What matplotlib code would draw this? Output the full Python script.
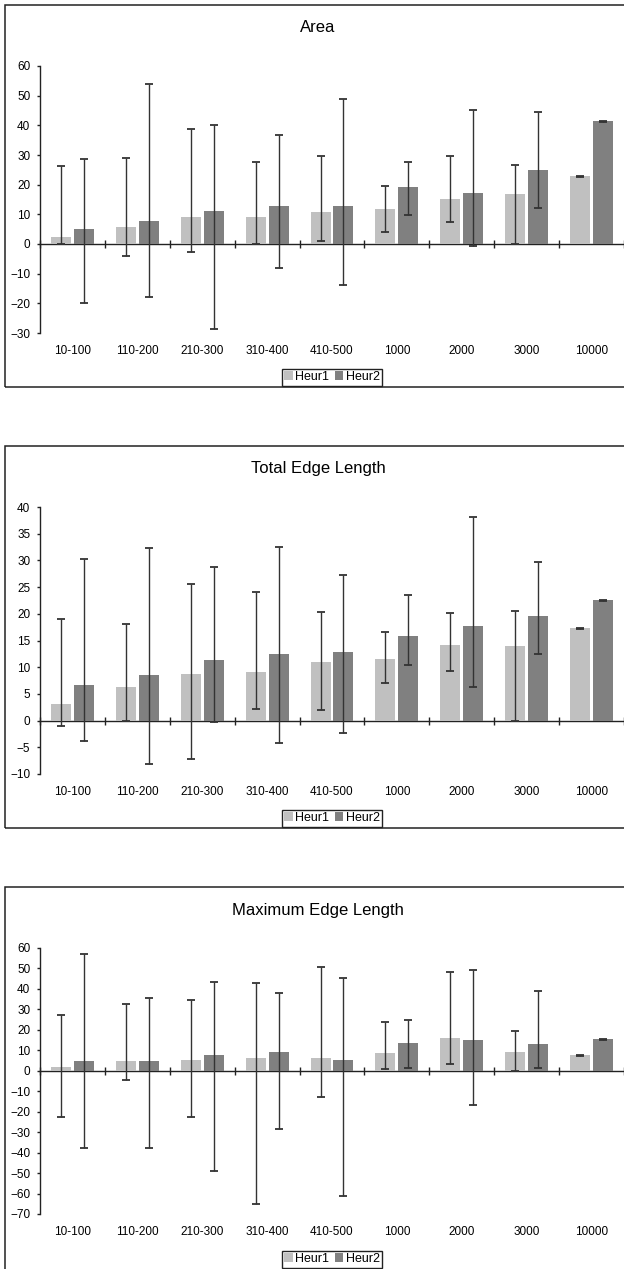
import numpy as np
import matplotlib
matplotlib.use("Agg")
import matplotlib.pyplot as plt
from matplotlib.patches import Rectangle

plt.rcParams['font.family'] = ['Liberation Sans', 'DejaVu Sans']

categories = ['10-100', '110-200', '210-300', '310-400', '410-500', '1000', '2000', '3000', '10000']
series_names = ['Heur1', 'Heur2']

# Area: means and error bar ends (low / high)
area_h1 = [2.3, 5.7, 9.1, 9.1, 10.8, 11.8, 15.1, 16.8, 22.8]
area_h1_lo = [0.0, -3.9, -2.6, 0.0, 1.0, 4.1, 7.5, 0.0, 22.5]
area_h1_hi = [26.3, 29.0, 38.6, 27.5, 29.7, 19.6, 29.7, 26.7, 22.8]
area_h2 = [5.0, 7.7, 11.1, 12.8, 12.8, 19.2, 17.2, 24.9, 41.4]
area_h2_lo = [-20.0, -18.0, -28.8, -8.0, -13.8, 9.8, -0.7, 12.1, 41.1]
area_h2_hi = [28.6, 53.9, 40.1, 36.9, 48.9, 27.6, 45.2, 44.6, 41.4]

# Total edge length
tel_h1 = [3.1, 6.3, 8.7, 9.1, 11.0, 11.5, 14.1, 14.0, 17.3]
tel_h1_lo = [-1.0, 0.0, -7.2, 2.2, 1.9, 7.1, 9.3, 0.0, 17.2]
tel_h1_hi = [19.1, 18.1, 25.5, 24.0, 20.3, 16.6, 20.1, 20.5, 17.4]
tel_h2 = [6.7, 8.5, 11.3, 12.5, 12.8, 15.8, 17.7, 19.6, 22.6]
tel_h2_lo = [-3.8, -8.2, -0.2, -4.2, -2.3, 10.4, 6.2, 12.5, 22.4]
tel_h2_hi = [30.2, 32.3, 28.7, 32.5, 27.3, 23.6, 38.1, 29.7, 22.6]

# Maximum edge length
mel_h1 = [1.6, 5.0, 5.5, 6.0, 6.0, 8.9, 15.8, 9.4, 7.5]
mel_h1_lo = [-22.8, -4.6, -22.8, -65.2, -12.8, 1.0, 3.1, -0.3, 7.3]
mel_h1_hi = [27.2, 32.5, 34.5, 42.9, 50.9, 23.6, 48.5, 19.3, 7.7]
mel_h2 = [5.0, 5.0, 7.5, 9.4, 5.5, 13.8, 14.8, 13.3, 15.3]
mel_h2_lo = [-37.7, -37.9, -49.1, -28.3, -61.1, 1.5, -16.6, 1.3, 15.1]
mel_h2_hi = [57.2, 35.4, 43.6, 37.9, 45.2, 24.7, 49.4, 39.0, 15.5]

W, H = 624, 1269
fig = plt.figure(figsize=(W / 100, H / 100), dpi=100)

colors = ['#c0c0c0', '#808080']
bar_w = 0.308
offs = [-0.177, 0.177]

# (title, data, ylim, step, axes top px, axes bottom px, box top px, box bottom px, title px, legend px)
panels = [
    ('Area', [(area_h1, area_h1_lo, area_h1_hi), (area_h2, area_h2_lo, area_h2_hi)],
     (-30, 60), 10, 66, 333, 5, 387, 27, 377),
    ('Total Edge Length', [(tel_h1, tel_h1_lo, tel_h1_hi), (tel_h2, tel_h2_lo, tel_h2_hi)],
     (-10, 40), 5, 507, 774, 446, 828, 468, 818),
    ('Maximum Edge Length', [(mel_h1, mel_h1_lo, mel_h1_hi), (mel_h2, mel_h2_lo, mel_h2_hi)],
     (-70, 60), 10, 948, 1214, 887, 1275, 910, 1259),
]

x = np.arange(len(categories))

for title, data, ylim, step, a_top, a_bot, b_top, b_bot, t_y, l_y in panels:
    # outer frame
    fig.patches.append(Rectangle((5 / W, 1 - b_bot / H), 1.0, (b_bot - b_top) / H,
                                 transform=fig.transFigure, fill=False,
                                 edgecolor='#222222', linewidth=1.1))
    fig.text(318 / W, 1 - t_y / H, title, ha='center', va='center', fontsize=12)

    ax = fig.add_axes([40 / W, 1 - a_bot / H, 584 / W, (a_bot - a_top) / H])
    handles = []
    for i, (vals, lo, hi) in enumerate(data):
        vals = np.array(vals)
        yerr = [vals - np.array(lo), np.array(hi) - vals]
        b = ax.bar(x + offs[i], vals, width=bar_w, color=colors[i], zorder=2,
                   label=series_names[i])
        handles.append(b)
        ax.errorbar(x + offs[i], vals, yerr=yerr, fmt='none', ecolor='#333333',
                    elinewidth=1.0, capsize=3, capthick=1.3, zorder=3)

    ax.set_xlim(-0.5, len(categories) - 0.5)
    ax.set_ylim(*ylim)
    ax.set_yticks(np.arange(ylim[0], ylim[1] + step, step))
    for s in ['top', 'right', 'bottom']:
        ax.spines[s].set_visible(False)
    ax.spines['left'].set_color('#222222')
    ax.spines['left'].set_linewidth(1.0)
    ax.tick_params(axis='y', direction='out', length=2.5, width=1.0, pad=4.5,
                   labelsize=8.5, color='#222222')
    ax.set_xticks(x, categories)
    ax.tick_params(axis='x', length=0, pad=8.5, labelsize=8.5)

    # zero line with category boundary ticks
    frac = (0 - ylim[0]) / (ylim[1] - ylim[0])
    sec = ax.secondary_xaxis(frac)
    sec.set_xticks(np.arange(-0.5, len(categories), 1.0))
    sec.tick_params(direction='inout', length=6, width=1.0, color='#222222',
                    labelbottom=False, labeltop=False)
    for s in sec.spines.values():
        s.set_color('#222222')
        s.set_linewidth(1.0)

    leg = ax.legend(handles=handles, loc='center', ncol=2,
                    bbox_to_anchor=(332 / W, 1 - l_y / H), bbox_transform=fig.transFigure,
                    fontsize=9, handlelength=0.7, handleheight=0.7, handletextpad=0.2,
                    columnspacing=0.4, borderpad=0.2, borderaxespad=0,
                    fancybox=False, framealpha=1, edgecolor='#222222')
    leg.get_frame().set_linewidth(1.0)

plt.savefig('out.png', dpi=100)
plt.close()
print("Plot saved to out.png")
